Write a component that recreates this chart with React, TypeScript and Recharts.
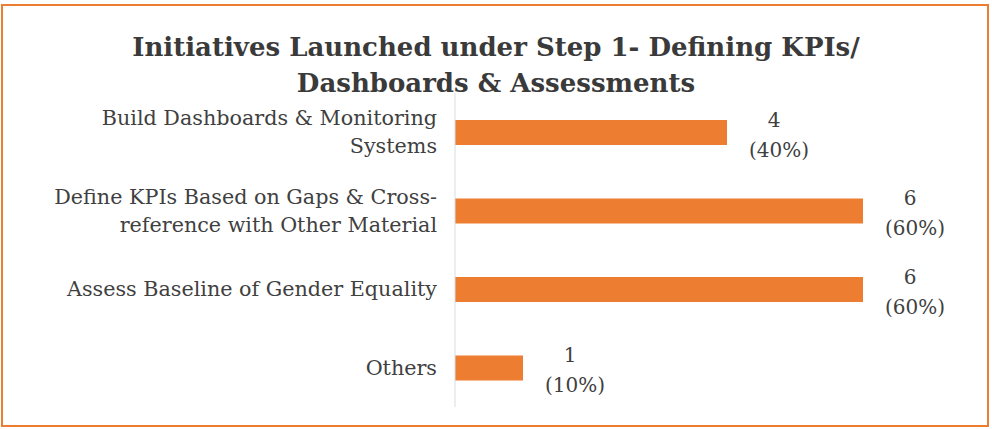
import { BarChart, Bar, XAxis, YAxis, LabelList } from "recharts";

const categories = [
  "Build Dashboards & Monitoring Systems",
  "Define KPIs Based on Gaps & Cross-reference with Other Material",
  "Assess Baseline of Gender Equality",
  "Others",
];
const counts = [4, 6, 6, 1];
const percents = [40, 60, 60, 10];

const data = categories.map((name, i) => ({ name, count: counts[i], pct: percents[i] }));

const FONT = "'DejaVu Serif', serif";
const TEXT = "#404040";
const ORANGE = "#ED7D31";

// wrap on spaces and after hyphens, like Excel does
function wrap(label: string, max = 34) {
  const lines: string[] = [];
  let cur = "";
  const re = /(\s*)([^\s-]+-?)/g;
  let m: RegExpExecArray | null;
  while ((m = re.exec(label))) {
    const sep = m[1] ? " " : "";
    const next = cur ? cur + sep + m[2] : m[2];
    if (next.length > max && cur) {
      lines.push(cur);
      cur = m[2];
    } else cur = next;
  }
  if (cur) lines.push(cur);
  return lines;
}

function CategoryTick({ x, y, payload }: any) {
  const lines = wrap(String(payload.value));
  const lh = 28;
  const start = -((lines.length - 1) * lh) / 2;
  return (
    <text x={x - 18} y={y} textAnchor="end" fill={TEXT} fontFamily={FONT} fontSize={20.7}>
      {lines.map((l, i) => (
        <tspan key={i} x={x - 18} y={y + start + i * lh} dominantBaseline="central">{l}</tspan>
      ))}
    </text>
  );
}

function labelLine(offsetY: number, dx: number, fmt: (v: any) => string) {
  return (props: any) => {
    const x = Number(props.x) + Number(props.width) + dx;
    const y = Number(props.y) + Number(props.height) / 2 + offsetY;
    return (
      <text x={x} y={y} textAnchor="middle" dominantBaseline="central" fill={TEXT} fontFamily={FONT} fontSize={20}>
        {fmt(props.value)}
      </text>
    );
  };
}

export default function App() {
  return (
    <div style={{ position: "absolute", left: 0, top: 0, width: 992, height: 429, background: "#fff" }}>
      <div
        style={{
          position: "absolute", left: 1, top: 4, width: 984, height: 419,
          border: `2px solid ${ORANGE}`,
        }}
      />
      <div
        style={{
          position: "absolute", left: 0, top: 29, width: 992, textAlign: "center",
          fontFamily: FONT, fontWeight: "bold", fontSize: 26, lineHeight: "36px", color: "#3a3a3a",
        }}
      >
        Initiatives Launched under Step 1- Defining KPIs/
        <br />
        Dashboards &amp; Assessments
      </div>
      <div style={{ position: "absolute", left: 0, top: 0 }}>
        <BarChart
          width={992}
          height={429}
          data={data}
          layout="vertical"
          margin={{ top: 93, right: 61, bottom: 22, left: 0 }}
          barSize={25}
        >
          <XAxis type="number" domain={[0, 7]} hide />
          <YAxis
            type="category"
            dataKey="name"
            width={455}
            axisLine={{ stroke: "#D9DCE3" }}
            tickLine={false}
            tickSize={0}
            tickMargin={0}
            interval={0}
            tick={<CategoryTick />}
          />
          <Bar dataKey="count" fill={ORANGE} isAnimationActive={false}>
            <LabelList dataKey="count" content={labelLine(-13, 47, (v) => String(v))} />
            <LabelList dataKey="pct" content={labelLine(17, 52, (v) => `(${v}%)`)} />
          </Bar>
        </BarChart>
      </div>
    </div>
  );
}
